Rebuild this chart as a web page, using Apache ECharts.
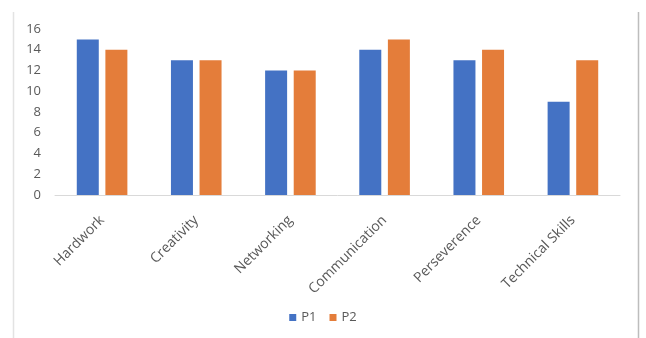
<!DOCTYPE html>
<html>
<head>
<meta charset="utf-8">
<script src="https://cdn.jsdelivr.net/npm/echarts@6/dist/echarts.min.js"></script>
<style>
  html, body { margin: 0; padding: 0; background: #fff; }
  #chart { width: 646px; height: 338px; }
</style>
</head>
<body>
<div id="chart"></div>
<script>
// Skill ratings for two people across six categories
const categories = ['Hardwork', 'Creativity', 'Networking', 'Communication', 'Perseverence', 'Technical Skills'];
const p1Values = [15, 13, 12, 14, 13, 9];
const p2Values = [14, 13, 12, 15, 14, 13];
const yTicks = { min: 0, max: 16, interval: 2 };

const labelFont = 'Open Sans, Liberation Sans, sans-serif';
const chart = echarts.init(document.getElementById('chart'), null, { renderer: 'canvas' });

chart.setOption({
  animation: false,
  backgroundColor: '#ffffff',
  color: ['#4472c4', '#e47d3a'],
  grid: { left: 55, right: 26, top: 29, bottom: 143, containLabel: false },
  legend: {
    data: ['P1', 'P2'],
    bottom: 9,
    left: 'center',
    itemWidth: 7,
    itemHeight: 7,
    itemGap: 13,
    icon: 'rect',
    textStyle: { color: '#595959', fontSize: 13, fontFamily: labelFont }
  },
  xAxis: {
    type: 'category',
    data: categories,
    axisLine: { show: true, lineStyle: { color: '#d9d9d9', width: 1 } },
    axisTick: { show: false },
    axisLabel: {
      rotate: 45,
      interval: 0,
      margin: 23,
      color: '#595959',
      fontSize: 14,
      fontFamily: labelFont
    }
  },
  yAxis: {
    type: 'value',
    min: yTicks.min,
    max: yTicks.max,
    interval: yTicks.interval,
    axisLine: { show: false },
    axisTick: { show: false },
    splitLine: { show: false },
    axisLabel: { color: '#595959', fontSize: 13, margin: 14, fontFamily: labelFont }
  },
  series: [
    { name: 'P1', type: 'bar', data: p1Values, barWidth: 22, barGap: '30%' },
    { name: 'P2', type: 'bar', data: p2Values, barWidth: 22, barGap: '30%' }
  ],
  graphic: [
    { type: 'line', shape: { x1: 13.5, y1: 12, x2: 13.5, y2: 338 }, style: { stroke: '#e3e3e3', lineWidth: 1.5 } },
    { type: 'line', shape: { x1: 638.5, y1: 12, x2: 638.5, y2: 338 }, style: { stroke: '#bdbdbd', lineWidth: 1.5 } }
  ]
});
</script>
</body>
</html>
